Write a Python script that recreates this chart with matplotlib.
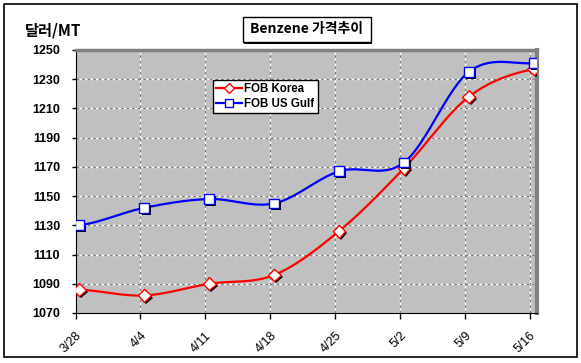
import numpy as np
import matplotlib.pyplot as plt
import matplotlib.patheffects as pe
from matplotlib.patches import Rectangle

# Weekly benzene prices (USD/MT)
dates = ["3/28", "4/4", "4/11", "4/18", "4/25", "5/2", "5/9", "5/16"]
fob_korea = [1086, 1082, 1090, 1096, 1126, 1169, 1218, 1237]
fob_usgulf = [1130, 1142, 1148, 1145, 1167, 1173, 1235, 1241]

num_font = "Liberation Sans"
kr_font = ["Noto Sans CJK KR", "DejaVu Sans"]


def smooth(x, y, n=30):
    # Catmull-Rom style smoothing, like Excel's "smoothed line"
    x = np.asarray(x, float)
    y = np.asarray(y, float)
    px = np.concatenate([[2 * x[0] - x[1]], x, [2 * x[-1] - x[-2]]])
    py = np.concatenate([[y[0]], y, [y[-1]]])
    xs, ys = [], []
    t = np.linspace(0, 1, n)
    for i in range(1, len(px) - 2):
        for p, out in ((px, xs), (py, ys)):
            p0, p1, p2, p3 = p[i - 1], p[i], p[i + 1], p[i + 2]
            m1 = (p2 - p0) / 2
            m2 = (p3 - p1) / 2
            h00 = 2 * t**3 - 3 * t**2 + 1
            h10 = t**3 - 2 * t**2 + t
            h01 = -2 * t**3 + 3 * t**2
            h11 = t**3 - t**2
            out.extend(h00 * p1 + h10 * m1 + h01 * p2 + h11 * m2)
    return np.array(xs), np.array(ys)


fig = plt.figure(figsize=(5.81, 3.63), dpi=100)
ax = fig.add_axes([75.5 / 581, 50 / 363, (537 - 75.5) / 581, (313 - 50) / 363])
ax.set_facecolor("#C0C0C0")

x = np.arange(len(dates)) + 0.06

shadow = [pe.SimplePatchShadow(offset=(1.5, -1.5), shadow_rgbFace="black", alpha=1), pe.Normal()]

for vals, col, mk, ms, lab in [
    (fob_korea, "#FF0000", "D", 6.5, "FOB Korea"),
    (fob_usgulf, "#0000FF", "s", 7, "FOB US Gulf"),
]:
    sx, sy = smooth(x, vals)
    ax.plot(sx, sy, color=col, lw=1.6, zorder=3)
    ax.plot(x, vals, ls="none", marker=mk, ms=ms, mfc="white", mec=col, mew=1,
            zorder=4, path_effects=shadow)
    ax.plot([], [], color=col, lw=1.6, marker=mk, ms=ms - 1, mfc="white", mec=col,
            mew=1, label=lab)

ax.set_xlim(0, 7.11)
ax.set_ylim(1070, 1250)
ax.set_yticks(np.arange(1070, 1251, 20))
ax.set_xticks(np.arange(len(dates)))
ax.set_xticklabels(dates, rotation=45, ha="right", va="top", rotation_mode="anchor")

for g in ax.get_yticks()[1:]:
    ax.axhline(g, color="white", lw=1, zorder=1)
    ax.axhline(g, color="#808080", lw=1, ls=(0, (2, 2)), zorder=1.5)
for g in ax.get_xticks()[1:]:
    ax.axvline(g, color="white", lw=1, zorder=1)
    ax.axvline(g, color="#808080", lw=1, ls=(0, (2, 2)), zorder=1.5)

for lbl in ax.get_yticklabels():
    lbl.set_fontfamily(num_font)
    lbl.set_fontweight("bold")
    lbl.set_fontsize(9)
for lbl in ax.get_xticklabels():
    lbl.set_fontfamily(num_font)
    lbl.set_fontsize(9)
ax.tick_params(axis="x", length=4, width=1, pad=8)
ax.tick_params(axis="y", length=3, width=1, pad=8)

ax.spines["left"].set_color("black")
ax.spines["bottom"].set_color("black")
ax.spines["top"].set_color("#808080")
ax.spines["top"].set_linewidth(2.5)
ax.spines["right"].set_color("#808080")
ax.spines["right"].set_linewidth(3)

leg = ax.legend(loc="upper left", bbox_to_anchor=((213 - 75.5) / 461.5, (313 - 80) / 263),
                frameon=True, fancybox=False, framealpha=1, edgecolor="black",
                borderpad=0.3, handlelength=2.2, handletextpad=0.2, labelspacing=0.2,
                borderaxespad=0, prop={"family": num_font, "weight": "bold", "size": 8.3})
leg.get_frame().set_linewidth(1)
leg.set_zorder(10)

# y axis unit label and boxed title
fig.text(25 / 581, 1 - 30 / 363, "달러/MT", family=kr_font, fontweight="bold",
         fontsize=11, va="center", ha="left")
fig.patches.append(Rectangle((244 / 581, 1 - 43.5 / 363), 128 / 581, 25 / 363,
                             transform=fig.transFigure, fc="black", ec="none", zorder=1))
fig.patches.append(Rectangle((242.5 / 581, 1 - 41.7 / 363), 128 / 581, 25 / 363,
                             transform=fig.transFigure, fc="white", ec="black", lw=1, zorder=2))
fig.text(306.5 / 581, 1 - 29.5 / 363, "Benzene 가격추이", family=kr_font,
         fontweight="bold", fontsize=10, ha="center", va="center", zorder=3)

# outer chart border
fig.patches.append(Rectangle((4 / 581, 1 - 357 / 363), 573 / 581, 353 / 363,
                             transform=fig.transFigure, fc="none", ec="black", lw=1.2))

fig.savefig("out.png", dpi=100)
